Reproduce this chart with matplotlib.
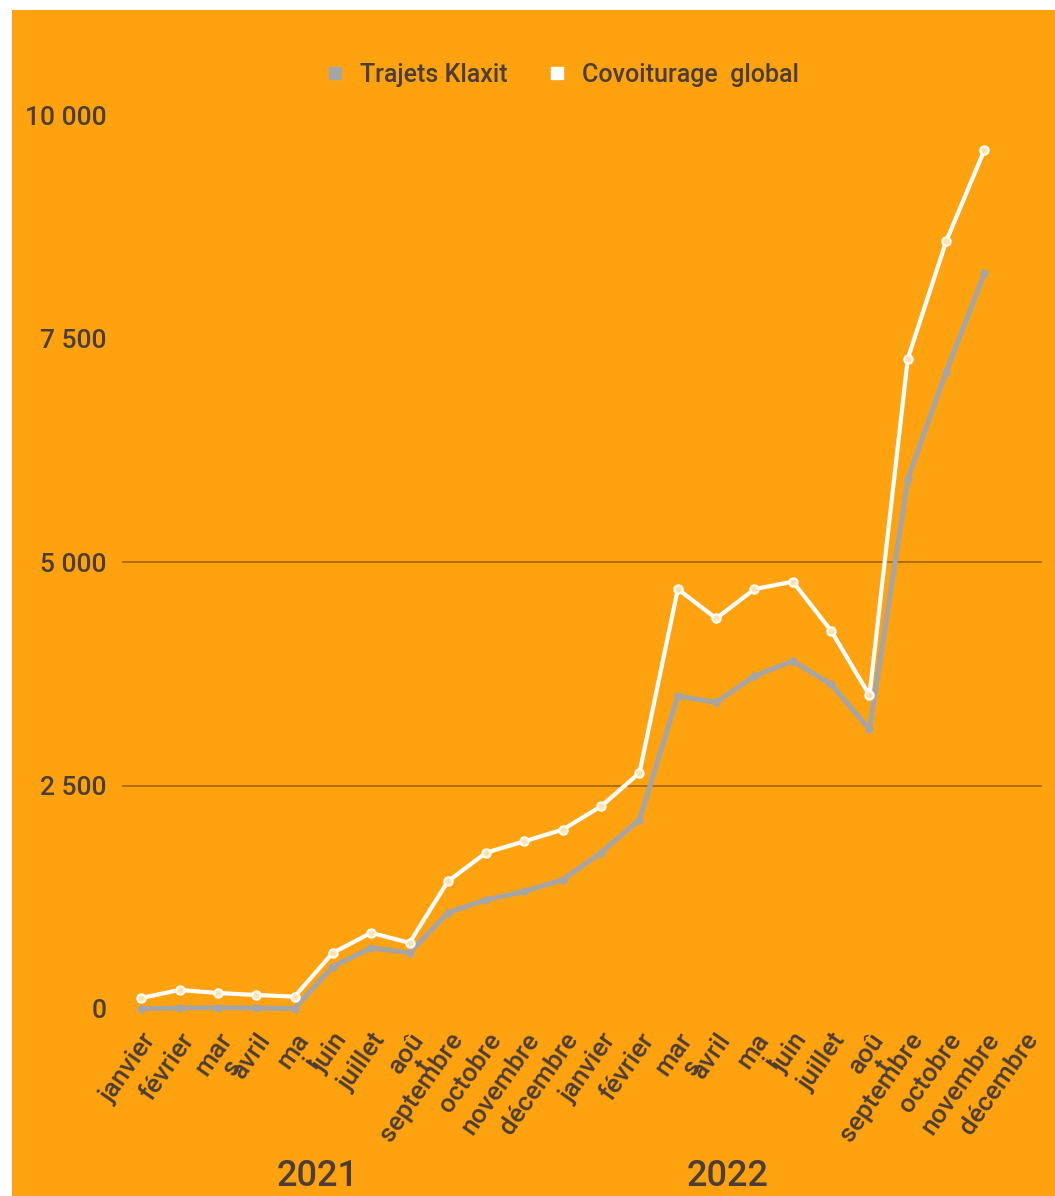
import numpy as np
import matplotlib
matplotlib.use('Agg')
import matplotlib.pyplot as plt
import matplotlib.transforms as mtransforms
from matplotlib.lines import Line2D
from matplotlib.patches import Rectangle

plt.rcParams['font.family'] = ['Roboto', 'DejaVu Sans']
plt.rcParams['font.weight'] = 'medium'

months = ['janvier', 'février', 'mar\ns', 'avril', 'ma\ni', 'juin', 'juillet',
          'aoû\nt', 'septembre', 'octobre', 'novembre', 'décembre']
years = ['2021', '2022']
labels = months + months

klaxit = [5, 10, 15, 10, 5, 474, 684, 628, 1076, 1222, 1315, 1446,
          1750, 2119, 3500, 3430, 3725, 3893, 3632, 3127, 5930, 7130, 8229, np.nan]
covoit = [123, 213, 179, 157, 138, 628, 852, 740, 1427, 1749, 1876, 2007,
          2268, 2642, 4697, 4369, 4697, 4780, 4230, 3509, 7276, 8587, 9611, np.nan]

yticks = [0, 2500, 5000, 7500, 10000]
yticklabels = ['0', '2 500', '5 000', '7 500', '10 000']
gridlines = [2500, 5000]

orange = '#FEA20F'
grey = '#A5A5A5'
txt = '#4b3d38'

fig = plt.figure(figsize=(10.55, 11.96), dpi=100, facecolor='white')
fig.patches.append(Rectangle((12 / 1055, 0), 1, 1 - 10 / 1196, transform=fig.transFigure,
                             facecolor=orange, edgecolor='none', zorder=-10))
ax = fig.add_axes([122 / 1055, 1 - 1009 / 1196, 920 / 1055, (1009 - 115) / 1196])
ax.set_facecolor(orange)

x = np.arange(len(labels))
for g in gridlines:
    ax.axhline(g, color='#B26F10', lw=1.4, zorder=1)

ax.plot(x, klaxit, color=grey, lw=3.6, marker='o', markersize=5, mfc=grey, mec=grey,
        clip_on=False, zorder=3, label='Trajets Klaxit')
ax.plot(x, covoit, color='white', lw=3, marker='o', markersize=6, mfc='#FFE2B0', mec='white',
        mew=1.5, clip_on=False, zorder=4, label='Covoiturage  global')

ax.set_xlim(-0.5, len(labels) - 0.5)
ax.set_ylim(0, 10000)
ax.set_yticks(yticks)
ax.set_yticklabels(yticklabels)
ax.set_xticks(x)
ax.set_xticklabels(labels, rotation=55, ha='right', va='top', rotation_mode='anchor',
                   multialignment='center', linespacing=0.9)
ax.tick_params(axis='x', length=0, pad=14, labelsize=19, labelcolor=txt)
ax.tick_params(axis='y', length=0, pad=11, labelsize=19, labelcolor=txt)
for s in ax.spines.values():
    s.set_visible(False)

trans = mtransforms.blended_transform_factory(ax.transData, fig.transFigure)
year_pos = [4.6, 15.3]
for xp, yr in zip(year_pos, years):
    ax.text(xp, 0.002, yr, transform=trans, ha='center', va='bottom',
            fontsize=26, color=txt)

handles = [Line2D([], [], ls='none', marker='s', markersize=9, mfc=grey, mec=grey),
           Line2D([], [], ls='none', marker='s', markersize=9, mfc='white', mec='white')]
fig.legend(handles, ['Trajets Klaxit', 'Covoiturage  global'], loc='center',
           bbox_to_anchor=(562 / 1055, 1 - 75 / 1196), ncol=2, frameon=False,
           fontsize=18, labelcolor=txt, handlelength=0.8, handletextpad=0.6,
           columnspacing=1.6)

fig.savefig('out.png', dpi=100, facecolor='white')
